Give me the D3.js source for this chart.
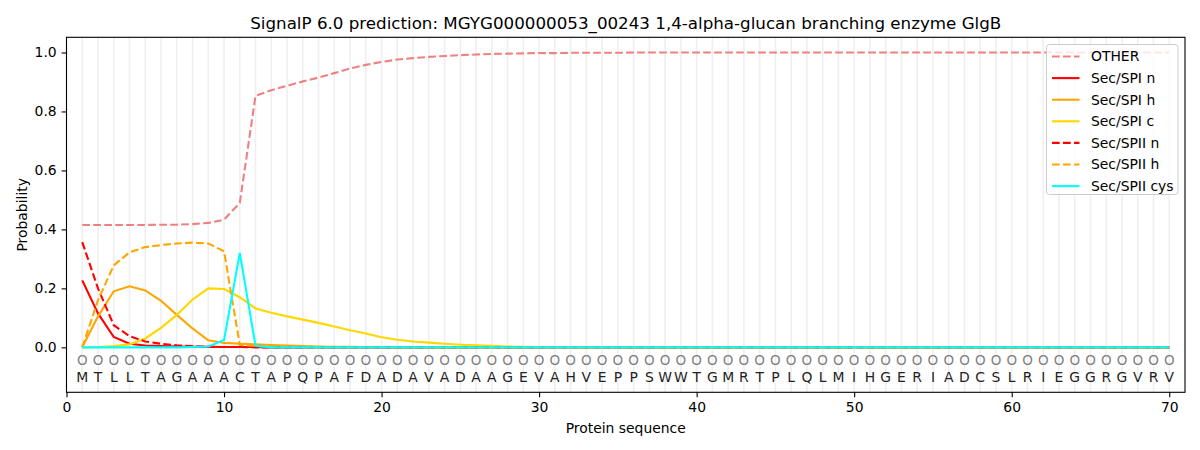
<!DOCTYPE html>
<html>
<head>
<meta charset="utf-8">
<script src="https://cdn.jsdelivr.net/npm/d3@7"></script>
<style>
  body { margin: 0; background: #fff; }
  svg text { font-family: "DejaVu Sans", sans-serif; }
</style>
</head>
<body>
<div id="chart"></div>
<script>
// ----------------------- signalp prediction plot

var titleText = "SignalP 6.0 prediction: MGYG000000053_00243 1,4-alpha-glucan branching enzyme GlgB";
var sequence = "MTLLTAGAAACTAPQPAFDADAVADAAGEVAHVEPPSWWTGMRTPLQLMIHGERIADCSLRIEGGRGVRV".split("");
var xTicks = [0, 10, 20, 30, 40, 50, 60, 70];
var yTicks = [0.0, 0.2, 0.4, 0.6, 0.8, 1.0];

var other = [0.415, 0.415, 0.415, 0.415, 0.415, 0.416, 0.416, 0.418, 0.422, 0.433,
    0.49, 0.853, 0.872, 0.887, 0.902, 0.915, 0.93, 0.946, 0.958, 0.968,
    0.976, 0.981, 0.985, 0.988, 0.991, 0.993, 0.995, 0.996, 0.997, 0.998,
    0.998, 0.999, 0.999, 0.999, 0.999, 1, 1, 1, 1, 1,
    1, 1, 1, 1, 1, 1, 1, 1, 1, 1,
    1, 1, 1, 1, 1, 1, 1, 1, 1, 1,
    1, 1, 1, 1, 1, 1, 1, 1, 1, 1];
var spiN = [0.227, 0.115, 0.035, 0.012, 0.006, 0.004, 0.003, 0.002, 0.002, 0.001,
    0.001, 0.001, 0, 0, 0, 0, 0, 0, 0, 0,
    0, 0, 0, 0, 0, 0, 0, 0, 0, 0,
    0, 0, 0, 0, 0, 0, 0, 0, 0, 0,
    0, 0, 0, 0, 0, 0, 0, 0, 0, 0,
    0, 0, 0, 0, 0, 0, 0, 0, 0, 0,
    0, 0, 0, 0, 0, 0, 0, 0, 0, 0];
var spiH = [0, 0.105, 0.19, 0.207, 0.193, 0.158, 0.11, 0.064, 0.024, 0.015,
    0.012, 0.01, 0.008, 0.006, 0.004, 0.003, 0.002, 0.002, 0.001, 0.001,
    0, 0, 0, 0, 0, 0, 0, 0, 0, 0,
    0, 0, 0, 0, 0, 0, 0, 0, 0, 0,
    0, 0, 0, 0, 0, 0, 0, 0, 0, 0,
    0, 0, 0, 0, 0, 0, 0, 0, 0, 0,
    0, 0, 0, 0, 0, 0, 0, 0, 0, 0];
var spiC = [0, 0.001, 0.004, 0.01, 0.03, 0.066, 0.11, 0.162, 0.2, 0.198,
    0.17, 0.132, 0.117, 0.105, 0.094, 0.083, 0.071, 0.058, 0.047, 0.034,
    0.026, 0.02, 0.016, 0.012, 0.009, 0.007, 0.005, 0.003, 0.002, 0.001,
    0, 0, 0, 0, 0, 0, 0, 0, 0, 0,
    0, 0, 0, 0, 0, 0, 0, 0, 0, 0,
    0, 0, 0, 0, 0, 0, 0, 0, 0, 0,
    0, 0, 0, 0, 0, 0, 0, 0, 0, 0];
var spiiN = [0.357, 0.2, 0.075, 0.038, 0.02, 0.012, 0.007, 0.004, 0.002, 0.001,
    0.001, 0, 0, 0, 0, 0, 0, 0, 0, 0,
    0, 0, 0, 0, 0, 0, 0, 0, 0, 0,
    0, 0, 0, 0, 0, 0, 0, 0, 0, 0,
    0, 0, 0, 0, 0, 0, 0, 0, 0, 0,
    0, 0, 0, 0, 0, 0, 0, 0, 0, 0,
    0, 0, 0, 0, 0, 0, 0, 0, 0, 0];
var spiiH = [0, 0.16, 0.278, 0.322, 0.34, 0.347, 0.352, 0.355, 0.352, 0.326,
    0.008, 0.005, 0.003, 0.002, 0.001, 0, 0, 0, 0, 0,
    0, 0, 0, 0, 0, 0, 0, 0, 0, 0,
    0, 0, 0, 0, 0, 0, 0, 0, 0, 0,
    0, 0, 0, 0, 0, 0, 0, 0, 0, 0,
    0, 0, 0, 0, 0, 0, 0, 0, 0, 0,
    0, 0, 0, 0, 0, 0, 0, 0, 0, 0];
var spiiCys = [0, 0, 0, 0, 0, 0, 0, 0.001, 0.003, 0.025,
    0.32, 0.005, 0, 0, 0, 0, 0, 0, 0, 0,
    0, 0, 0, 0, 0, 0, 0, 0, 0, 0,
    0, 0, 0, 0, 0, 0, 0, 0, 0, 0,
    0, 0, 0, 0, 0, 0, 0, 0, 0, 0,
    0, 0, 0, 0, 0, 0, 0, 0, 0, 0,
    0, 0, 0, 0, 0, 0, 0, 0, 0, 0];

var seriesNames = ["OTHER", "Sec/SPI n", "Sec/SPI h", "Sec/SPI c", "Sec/SPII n", "Sec/SPII h", "Sec/SPII cys"];
var seriesValues = [other, spiN, spiH, spiC, spiiN, spiiH, spiiCys];
var seriesColors = ["#f08080", "#ff0000", "#ffa500", "#ffd700", "#ff0000", "#ffa500", "#00ffff"];
var seriesDashed = [true, false, false, false, true, true, false];

function drawChart() {
    var svgWidth = 1200, svgHeight = 450;
    var margin = {left: 66.5, top: 37.3, right: 15, bottom: 57.7};
    var w = svgWidth - margin.left - margin.right;
    var h = svgHeight - margin.top - margin.bottom;

    var svg = d3.select("#chart").append("svg")
        .attr("width", svgWidth)
        .attr("height", svgHeight);

    var x = d3.scaleLinear().domain([0, 71]).range([0, w]);
    var y = d3.scaleLinear().domain([-0.1525, 1.0515]).range([h, 0]);

    var g = svg.append("g")
        .attr("transform", "translate(" + margin.left + "," + margin.top + ")");

    // light vertical line at every residue
    g.selectAll(".vgrid")
        .data(sequence)
        .enter()
        .append("line")
        .attr("class", "vgrid")
        .attr("x1", function(d, i) { return x(i + 1); })
        .attr("x2", function(d, i) { return x(i + 1); })
        .attr("y1", 0)
        .attr("y2", h)
        .attr("stroke", "#efefef")
        .attr("stroke-width", 1.6);

    // the probability curves
    var line = d3.line()
        .x(function(d, i) { return x(i + 1); })
        .y(function(d) { return y(d); });

    seriesValues.forEach(function(vals, k) {
        g.append("path")
            .datum(vals)
            .attr("d", line)
            .attr("fill", "none")
            .attr("stroke", seriesColors[k])
            .attr("stroke-width", 2.1)
            .attr("stroke-dasharray", seriesDashed[k] ? "7.7,3.3" : null);
    });

    // residue markers + letters
    g.selectAll(".mark")
        .data(sequence)
        .enter()
        .append("text")
        .attr("class", "mark")
        .attr("x", function(d, i) { return x(i + 1); })
        .attr("y", y(-0.045))
        .attr("dy", "0.35em")
        .attr("text-anchor", "middle")
        .style("font-size", "13.5px")
        .attr("fill", "#808080")
        .text("O");

    g.selectAll(".aa")
        .data(sequence)
        .enter()
        .append("text")
        .attr("class", "aa")
        .attr("x", function(d, i) { return x(i + 1); })
        .attr("y", y(-0.1))
        .attr("dy", "0.35em")
        .attr("text-anchor", "middle")
        .style("font-size", "13.9px")
        .attr("fill", "#222")
        .text(function(d) { return d; });

    // axes
    var xAxis = g.append("g")
        .attr("transform", "translate(0," + h + ")")
        .call(d3.axisBottom(x).tickValues(xTicks).tickSize(4.9).tickSizeOuter(0).tickPadding(4.9));
    var yAxis = g.append("g")
        .call(d3.axisLeft(y).tickValues(yTicks).tickSize(4.9).tickSizeOuter(0).tickPadding(4.9)
            .tickFormat(d3.format(".1f")));
    [xAxis, yAxis].forEach(function(a) {
        a.select(".domain").remove();
        a.selectAll("text").style("font-size", "13.9px").attr("fill", "#000");
        a.selectAll("line").attr("stroke", "#000").attr("stroke-width", 1.1);
    });

    // frame
    g.append("rect")
        .attr("width", w)
        .attr("height", h)
        .attr("fill", "none")
        .attr("stroke", "#000")
        .attr("stroke-width", 1.1);

    svg.append("text")
        .attr("x", margin.left + w / 2)
        .attr("y", 23)
        .attr("dy", "0.35em")
        .attr("text-anchor", "middle")
        .style("font-size", "16.7px")
        .text(titleText);

    svg.append("text")
        .attr("x", margin.left + w / 2)
        .attr("y", 428)
        .attr("dy", "0.35em")
        .attr("text-anchor", "middle")
        .style("font-size", "13.9px")
        .text("Protein sequence");

    svg.append("text")
        .attr("transform", "translate(22," + (margin.top + h / 2) + ") rotate(-90)")
        .attr("dy", "0.35em")
        .attr("text-anchor", "middle")
        .style("font-size", "13.9px")
        .text("Probability");

    // legend
    var lg = svg.append("g").attr("transform", "translate(1046.5,44.5)");
    lg.append("rect")
        .attr("width", 131.5)
        .attr("height", 150)
        .attr("rx", 3)
        .attr("fill", "#fff")
        .attr("fill-opacity", 0.8)
        .attr("stroke", "#cccccc");
    seriesNames.forEach(function(name, k) {
        var yy = 12 + k * 21.6;
        lg.append("line")
            .attr("x1", 5.5).attr("x2", 33)
            .attr("y1", yy).attr("y2", yy)
            .attr("stroke", seriesColors[k])
            .attr("stroke-width", 2.1)
            .attr("stroke-dasharray", seriesDashed[k] ? "7.7,3.3" : null);
        lg.append("text")
            .attr("x", 44.5)
            .attr("y", yy)
            .attr("dy", "0.35em")
            .style("font-size", "13.9px")
            .text(name);
    });
}

drawChart();
</script>
</body>
</html>
